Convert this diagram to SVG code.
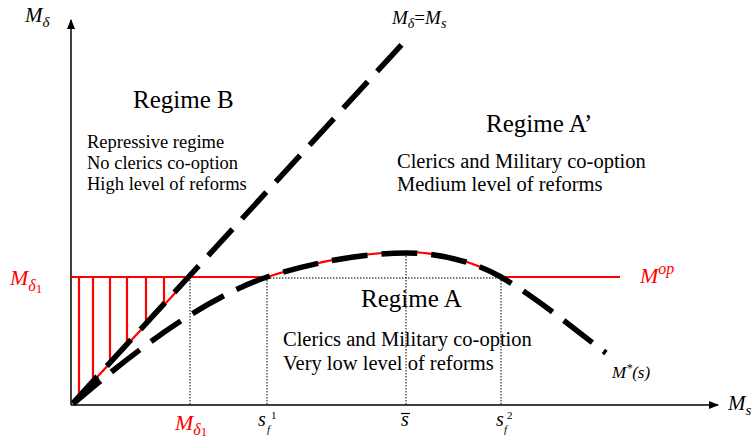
<svg xmlns="http://www.w3.org/2000/svg" width="755" height="441" viewBox="0 0 755 441">
<style>
text{font-family:"Liberation Serif","Times New Roman",serif;fill:#000}
.it{font-style:italic}
.red{fill:#ff0000}
.ax{stroke:#000;stroke-width:1.5;fill:none}
.dot{stroke:#000;stroke-width:1;stroke-dasharray:1.5 1.5;fill:none}
.dash{stroke:#000;stroke-width:5.5;stroke-dasharray:36 14;fill:none}
.rl{stroke:#ff0000;stroke-width:2.2;fill:none}
.big{font-size:25px}
.mid{font-size:20.5px}
.sm{font-size:18.5px}
.sx{font-size:11px}
</style>
<defs>
<marker id="ah" markerWidth="10" markerHeight="10" refX="9" refY="5" orient="auto" markerUnits="userSpaceOnUse">
<path d="M0,1 L10,5 L0,9 Z" fill="#000"/>
</marker>
</defs>
<g id="connectors">
<line class="ax" x1="71" y1="405" x2="71" y2="20" marker-end="url(#ah)"/>
<line class="ax" x1="71" y1="405" x2="718" y2="405" marker-end="url(#ah)"/>
<line class="dot" x1="190" y1="277" x2="190" y2="405"/>
<line class="dot" x1="267" y1="277" x2="267" y2="405"/>
<line class="dot" x1="406" y1="253" x2="406" y2="405"/>
<line class="dot" x1="501" y1="277" x2="501" y2="405"/>
<line class="dot" x1="267" y1="278" x2="501" y2="278"/>
<g id="hatch" class="rl">
<line x1="79" y1="277" x2="79" y2="396"/>
<line x1="93" y1="277" x2="93" y2="381"/>
<line x1="110" y1="277" x2="110" y2="363"/>
<line x1="127" y1="277" x2="127" y2="345"/>
<line x1="146" y1="277" x2="146" y2="325"/>
<line x1="164" y1="277" x2="164" y2="305"/>
</g>
<path class="rl" d="M73,403 L190,277"/>
<path class="rl" d="M71,277 L267,277 C320,260 370,252 406,252 C440,252 475,262 501,277 L620,277"/>
<path id="diag" class="dash" d="M73,403 L405,41"/>
<path id="mstar" class="dash" d="M73,404 C130,355 200,300 267,277 C320,260 370,253 406,253 C440,253 475,262 501,277 C540,300 575,330 606,353"/>
</g>
<g id="labels">
<text x="25" y="22" font-size="21" class="it">M<tspan font-size="15" dy="5">δ</tspan></text>
<text x="392" y="24" font-size="19" class="it">M<tspan font-size="14" dy="4">δ</tspan><tspan dy="-4" font-style="normal">=</tspan>M<tspan font-size="14" dy="4">s</tspan></text>
<text x="728" y="410" font-size="21" class="it">M<tspan font-size="15" dy="5">s</tspan></text>
<text x="10" y="285" font-size="22" class="it red">M<tspan font-size="16" dy="6">δ</tspan><tspan font-size="13" dy="2" font-style="normal">1</tspan></text>
<text x="175" y="430" font-size="22" class="it red">M<tspan font-size="16" dy="5">δ</tspan><tspan font-size="13" dy="1" font-style="normal">1</tspan></text>
<text x="640" y="283" font-size="22" class="it red">M<tspan font-size="16" dy="-9">op</tspan></text>
<text x="612" y="378" font-size="17" class="it">M<tspan font-size="12" dy="-6">*</tspan><tspan dy="6">(s)</tspan></text>
<text x="258" y="426" font-size="20" class="it">s</text>
<text x="271" y="419" class="sx">1</text>
<text x="267" y="433" class="sx it">f</text>
<text x="401" y="426" font-size="20" class="it">s</text>
<line x1="401" y1="413.5" x2="410" y2="413.5" stroke="#000" stroke-width="1.2"/>
<text x="496" y="426" font-size="20" class="it">s</text>
<text x="507" y="419" class="sx">2</text>
<text x="504" y="433" class="sx it">f</text>
</g>
<g id="regimeB">
<text x="133" y="108" class="big">Regime B</text>
<text x="87" y="148" class="sm">Repressive regime</text>
<text x="87" y="169" class="sm">No clerics co-option</text>
<text x="87" y="190" class="sm">High level of reforms</text>
</g>
<g id="regimeAprime">
<text x="486" y="132" class="big">Regime A’</text>
<text x="397" y="168" class="mid">Clerics and Military co-option</text>
<text x="397" y="191" class="mid">Medium level of reforms</text>
</g>
<g id="regimeA">
<text x="361" y="307" class="big">Regime A</text>
<text x="283" y="346" class="mid">Clerics and Military co-option</text>
<text x="283" y="370" class="mid">Very low level of reforms</text>
</g>
</svg>
